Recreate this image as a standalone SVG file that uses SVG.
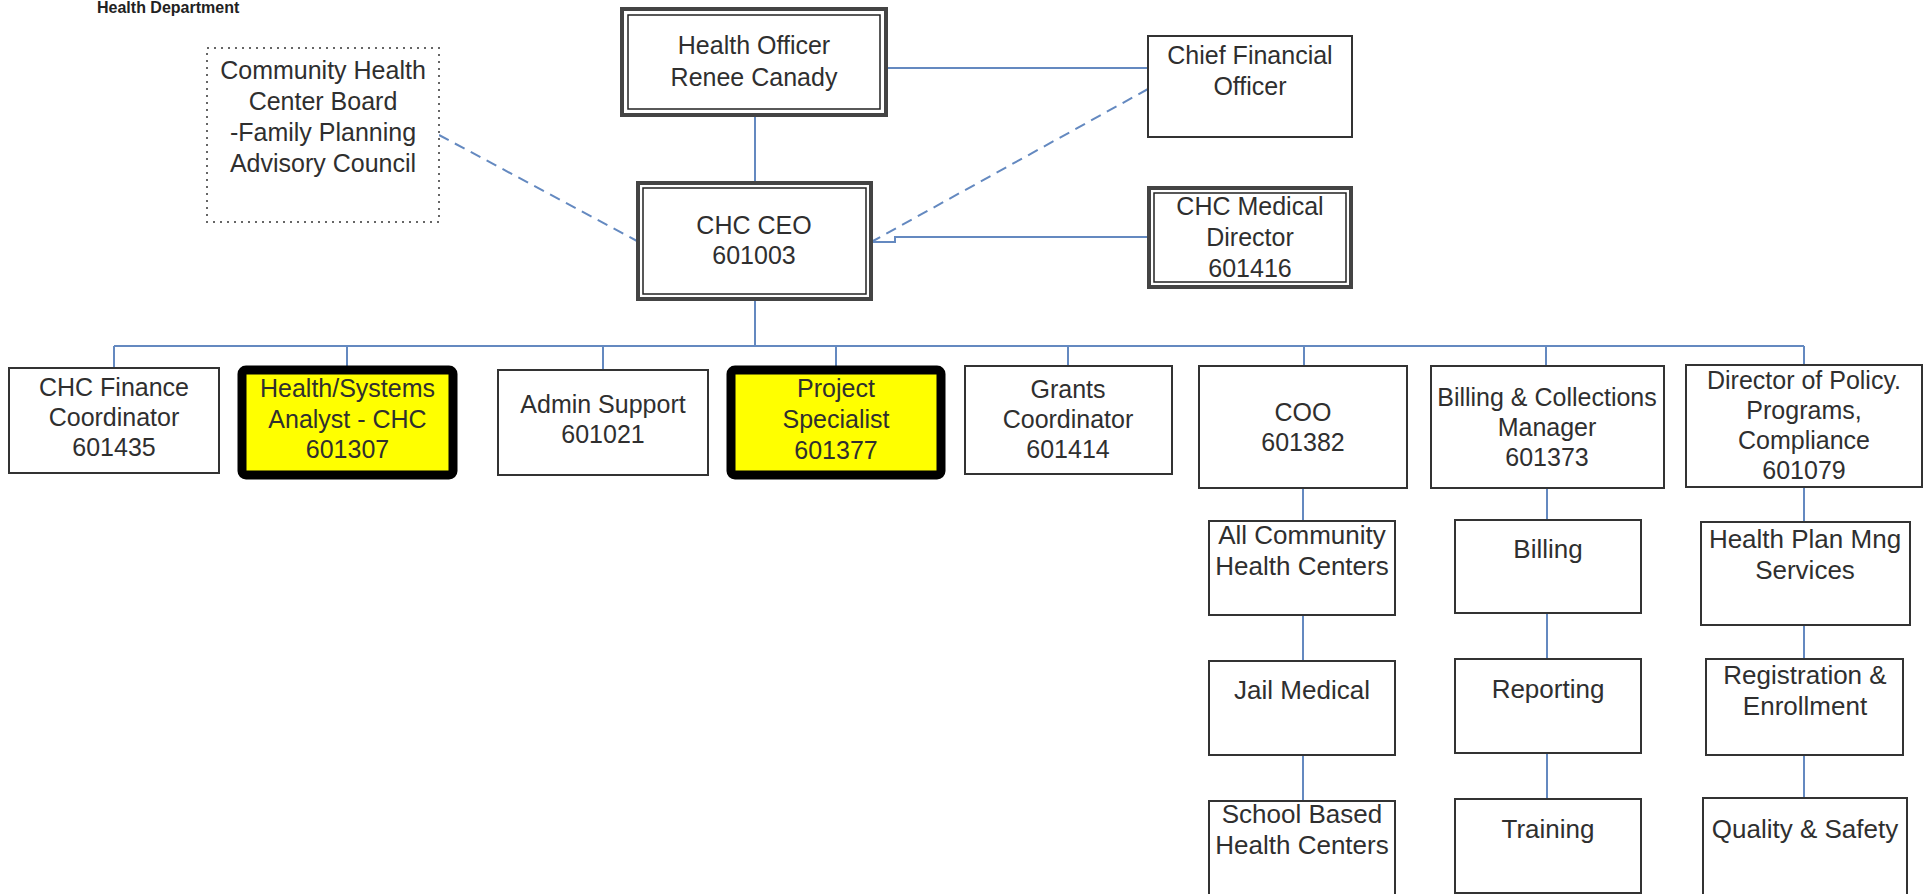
<svg xmlns="http://www.w3.org/2000/svg" width="1927" height="894" viewBox="0 0 1927 894">
<style>
  .t { font-family: "Liberation Sans", Arial, sans-serif; font-size: 25px; fill: #2f2f2f; text-anchor: middle; }
  .ts { font-family: "Liberation Sans", Arial, sans-serif; font-size: 26px; fill: #2f2f2f; text-anchor: middle; }
  .box { fill: #ffffff; stroke: #333333; stroke-width: 2; }
  .dotbox { fill: #ffffff; stroke: #666666; stroke-width: 2; stroke-dasharray: 2 5; }
  .hl { fill: #ffff00; stroke: #000000; stroke-width: 9; }
  .dblout { fill: #ffffff; stroke: #444444; stroke-width: 4; }
  .dblin { fill: none; stroke: #222222; stroke-width: 1.5; }
  .c { fill: none; stroke: #6489c0; stroke-width: 2; }
  .cd { fill: none; stroke: #6489c0; stroke-width: 2; stroke-dasharray: 11 7; }
  .logo { font-family: "Liberation Sans", Arial, sans-serif; font-size: 16px; font-weight: bold; fill: #222; }
</style>
<rect width="1927" height="894" fill="#ffffff"/>
<text class="logo" x="97" y="13">Health Department</text>

<g id="connectors">
  <path class="c" d="M888 68 H1148"/>
  <path class="c" d="M755 117 V182"/>
  <path class="cd" d="M1148 89 L873 241"/>
  <path class="cd" d="M439 135 L637 241"/>
  <path class="c" d="M872 242 H895 V237 H1148"/>
  <path class="c" d="M755 300 V346" stroke-width="2.5" stroke="#3f69ad"/>
  <path class="c" d="M114 346 H1804" stroke-width="1.8"/>
  <path class="c" d="M114 346 V368 M347 346 V366 M603 346 V370 M836 346 V366 M1068 346 V366 M1304 346 V366 M1546 346 V366 M1804 346 V366" stroke-width="1.8"/>
  <path class="c" d="M1303 488 V521 M1303 615 V661 M1303 755 V801"/>
  <path class="c" d="M1547 488 V520 M1547 613 V659 M1547 753 V799"/>
  <path class="c" d="M1804 487 V522 M1804 625 V659 M1804 755 V798"/>
</g>

<g id="community-board">
  <rect class="dotbox" x="207" y="48" width="232" height="174"/>
  <text class="t" x="323" y="79">Community Health</text>
  <text class="t" x="323" y="110">Center Board</text>
  <text class="t" x="323" y="141">-Family Planning</text>
  <text class="t" x="323" y="172">Advisory Council</text>
</g>

<g id="health-officer">
  <rect class="dblout" x="622" y="9" width="264" height="106" stroke="#333" stroke-width="4.5"/>
  <rect class="dblin" x="628" y="15" width="252" height="94"/>
  <text class="t" x="754" y="54">Health Officer</text>
  <text class="t" x="754" y="86">Renee Canady</text>
</g>

<g id="cfo">
  <rect class="box" x="1148" y="36" width="204" height="101"/>
  <text class="t" x="1250" y="64">Chief Financial</text>
  <text class="t" x="1250" y="95">Officer</text>
</g>

<g id="chc-ceo">
  <rect class="dblout" x="638" y="183" width="233" height="116" stroke="#666" stroke-width="3.5"/>
  <rect class="dblin" x="643" y="188" width="223" height="106"/>
  <text class="t" x="754" y="234">CHC CEO</text>
  <text class="t" x="754" y="264">601003</text>
</g>

<g id="medical-director">
  <rect class="dblout" x="1149" y="188" width="202" height="99" stroke="#555" stroke-width="3"/>
  <rect class="dblin" x="1154" y="193" width="192" height="89"/>
  <text class="t" x="1250" y="215">CHC Medical</text>
  <text class="t" x="1250" y="246">Director</text>
  <text class="t" x="1250" y="277">601416</text>
</g>

<g id="finance-coordinator">
  <rect class="box" x="9" y="368" width="210" height="105"/>
  <text class="t" x="114" y="396">CHC Finance</text>
  <text class="t" x="114" y="426">Coordinator</text>
  <text class="t" x="114" y="456">601435</text>
</g>

<g id="systems-analyst">
  <rect class="hl" x="242" y="370" width="211" height="105" rx="4"/>
  <text class="t" x="347.5" y="397">Health/Systems</text>
  <text class="t" x="347.5" y="428">Analyst - CHC</text>
  <text class="t" x="347.5" y="458">601307</text>
</g>

<g id="admin-support">
  <rect class="box" x="498" y="370" width="210" height="105"/>
  <text class="t" x="603" y="413">Admin Support</text>
  <text class="t" x="603" y="443">601021</text>
</g>

<g id="project-specialist">
  <rect class="hl" x="731" y="370" width="210" height="105" rx="4"/>
  <text class="t" x="836" y="397">Project</text>
  <text class="t" x="836" y="428">Specialist</text>
  <text class="t" x="836" y="459">601377</text>
</g>

<g id="grants-coordinator">
  <rect class="box" x="965" y="366" width="207" height="108"/>
  <text class="t" x="1068" y="398">Grants</text>
  <text class="t" x="1068" y="428">Coordinator</text>
  <text class="t" x="1068" y="458">601414</text>
</g>

<g id="coo">
  <rect class="box" x="1199" y="366" width="208" height="122"/>
  <text class="t" x="1303" y="421">COO</text>
  <text class="t" x="1303" y="451">601382</text>
</g>

<g id="billing-manager">
  <rect class="box" x="1431" y="366" width="233" height="122"/>
  <text class="t" x="1547" y="406">Billing &amp; Collections</text>
  <text class="t" x="1547" y="436">Manager</text>
  <text class="t" x="1547" y="466">601373</text>
</g>

<g id="director-policy">
  <rect class="box" x="1686" y="365" width="236" height="122"/>
  <text class="t" x="1804" y="389">Director of Policy.</text>
  <text class="t" x="1804" y="419">Programs,</text>
  <text class="t" x="1804" y="449">Compliance</text>
  <text class="t" x="1804" y="479">601079</text>
</g>

<g id="all-chc">
  <rect class="box" x="1209" y="521" width="186" height="94"/>
  <text class="ts" x="1302" y="544">All Community</text>
  <text class="ts" x="1302" y="575">Health Centers</text>
</g>
<g id="jail-medical">
  <rect class="box" x="1209" y="661" width="186" height="94"/>
  <text class="ts" x="1302" y="699">Jail Medical</text>
</g>
<g id="school-based">
  <rect class="box" x="1209" y="801" width="186" height="94"/>
  <text class="ts" x="1302" y="823">School Based</text>
  <text class="ts" x="1302" y="854">Health Centers</text>
</g>

<g id="billing">
  <rect class="box" x="1455" y="520" width="186" height="93"/>
  <text class="ts" x="1548" y="558">Billing</text>
</g>
<g id="reporting">
  <rect class="box" x="1455" y="659" width="186" height="94"/>
  <text class="ts" x="1548" y="698">Reporting</text>
</g>
<g id="training">
  <rect class="box" x="1455" y="799" width="186" height="94"/>
  <text class="ts" x="1548" y="838">Training</text>
</g>

<g id="health-plan">
  <rect class="box" x="1701" y="522" width="209" height="103"/>
  <text class="ts" x="1805" y="548">Health Plan Mng</text>
  <text class="ts" x="1805" y="579">Services</text>
</g>
<g id="registration">
  <rect class="box" x="1706" y="659" width="197" height="96"/>
  <text class="ts" x="1805" y="684">Registration &amp;</text>
  <text class="ts" x="1805" y="715">Enrollment</text>
</g>
<g id="quality-safety">
  <rect class="box" x="1703" y="798" width="204" height="97"/>
  <text class="ts" x="1805" y="838">Quality &amp; Safety</text>
</g>
</svg>
